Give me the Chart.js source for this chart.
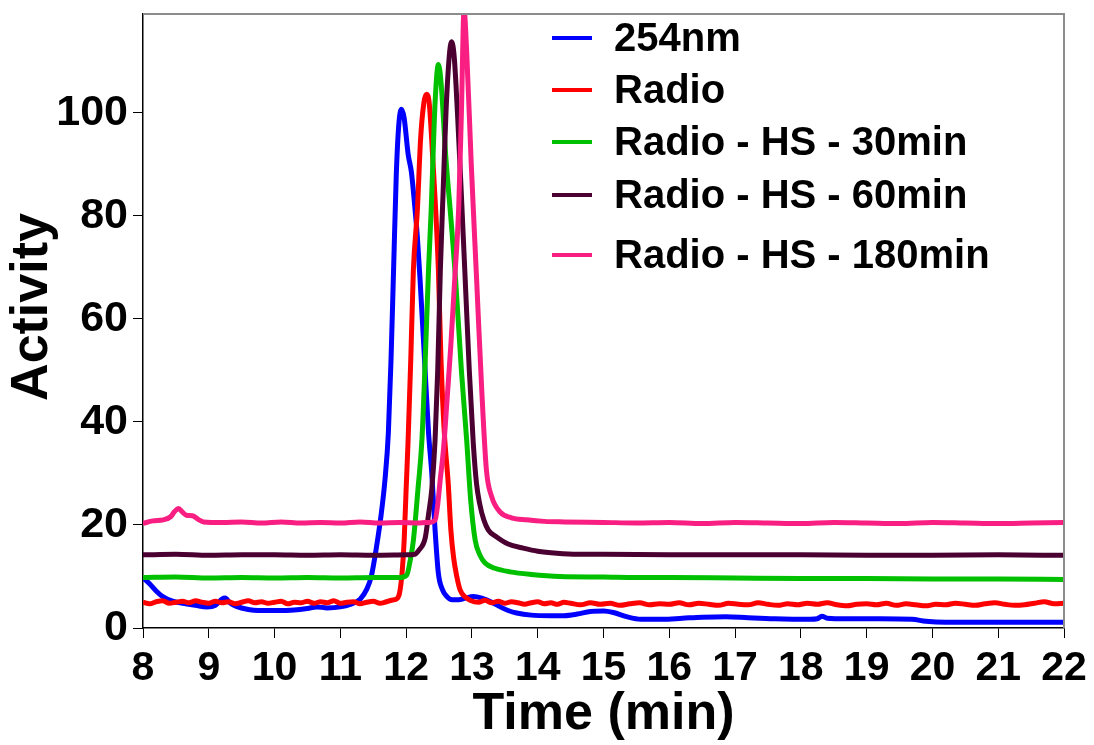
<!DOCTYPE html>
<html>
<head>
<meta charset="utf-8">
<script src="https://cdn.jsdelivr.net/npm/chart.js@4.4.1/dist/chart.umd.min.js"></script>
<style>
  html, body { margin: 0; padding: 0; background: #fff; }
  #wrap { width: 1094px; height: 745px; }
</style>
</head>
<body>
<div id="wrap"><canvas id="chart" width="1094" height="745"></canvas></div>
<script>
// ── Data ─────────────────────────────────────────────────────────────────────
const seriesLabels = ['254nm', 'Radio', 'Radio - HS - 30min', 'Radio - HS - 60min', 'Radio - HS - 180min'];
const seriesColors = ['#0000ff', '#ff0000', '#00c000', '#4a0030', '#f81e82'];

const xTicks = [8, 9, 10, 11, 12, 13, 14, 15, 16, 17, 18, 19, 20, 21, 22];
const yTicks = [0, 20, 40, 60, 80, 100];

// 254nm (UV)
const tUv = [8.0, 8.1, 8.2, 8.3, 8.45, 8.6, 8.8, 8.97, 9.1, 9.2, 9.25, 9.32, 9.42, 9.6, 9.75, 10.0, 10.3, 10.5, 10.64, 10.8, 11.0, 11.15, 11.3, 11.4, 11.47, 11.55, 11.62, 11.68, 11.73, 11.77, 11.81, 11.85, 11.89, 11.93, 11.97, 12.03, 12.08, 12.13, 12.17, 12.21, 12.28, 12.34, 12.39, 12.44, 12.49, 12.55, 12.62, 12.7, 12.8, 12.9, 13.02, 13.15, 13.3, 13.43, 13.55, 13.68, 13.9, 14.2, 14.4, 14.6, 14.8, 15.0, 15.15, 15.35, 15.57, 15.9, 16.2, 16.5, 16.86, 17.2, 17.6, 18.14, 18.25, 18.32, 18.4, 18.7, 19.2, 19.69, 19.9, 20.2, 21.0, 22.0];
const vUv = [9.8, 8.6, 7.2, 6.1, 5.2, 4.8, 4.4, 4.1, 4.4, 5.6, 5.8, 4.9, 4.2, 3.6, 3.4, 3.4, 3.5, 3.8, 4.1, 3.9, 4.1, 4.6, 5.6, 7.5, 10, 15.8, 22, 29, 38, 52, 70, 88, 98, 100.7, 99, 92, 88.5, 82, 76, 68, 52, 38, 30, 19, 10.6, 7.5, 6.1, 5.5, 5.5, 5.8, 6.1, 5.8, 5.0, 4.1, 3.4, 2.9, 2.5, 2.4, 2.4, 2.7, 3.2, 3.3, 3.0, 2.2, 1.7, 1.7, 1.9, 2.1, 2.2, 2.0, 1.8, 1.7, 1.8, 2.3, 1.9, 1.8, 1.8, 1.7, 1.3, 1.1, 1.1, 1.1];

// Radio
const tRadio = [8.0, 8.1, 8.2, 8.3, 8.4, 8.5, 8.6, 8.7, 8.8, 8.9, 9.0, 9.1, 9.2, 9.3, 9.4, 9.5, 9.6, 9.7, 9.8, 9.9, 10.0, 10.1, 10.2, 10.3, 10.4, 10.5, 10.6, 10.7, 10.8, 10.9, 11.0, 11.1, 11.2, 11.3, 11.4, 11.5, 11.6, 11.7, 11.78, 11.85, 11.9, 11.94, 11.97, 12.0, 12.03, 12.07, 12.11, 12.17, 12.22, 12.27, 12.31, 12.35, 12.41, 12.45, 12.49, 12.53, 12.58, 12.64, 12.68, 12.72, 12.77, 12.82, 12.9, 12.97, 13.1, 13.2, 13.3, 13.4, 13.5, 13.6, 13.7, 13.8, 13.9, 14.0, 14.1, 14.2, 14.3, 14.4, 14.5, 14.65, 14.8, 14.95, 15.1, 15.25, 15.4, 15.55, 15.7, 15.85, 16.0, 16.15, 16.3, 16.45, 16.6, 16.75, 16.9, 17.05, 17.2, 17.35, 17.5, 17.65, 17.8, 17.95, 18.1, 18.25, 18.4, 18.55, 18.7, 18.85, 19.0, 19.15, 19.3, 19.45, 19.6, 19.75, 19.9, 20.05, 20.2, 20.35, 20.5, 20.65, 20.8, 20.95, 21.1, 21.25, 21.4, 21.55, 21.7, 21.85, 22.0];
const vRadio = [5.0, 4.7, 5.1, 5.3, 4.8, 5.0, 5.2, 4.9, 5.3, 5.0, 4.8, 5.2, 4.9, 5.1, 4.7, 5.0, 5.3, 4.9, 5.1, 4.8, 5.0, 5.2, 4.7, 5.0, 4.9, 5.2, 4.8, 5.1, 4.9, 5.3, 4.8, 5.0, 5.1, 4.7, 5.0, 5.2, 4.8, 5.1, 5.4, 5.6, 6.8, 11, 17, 27, 36.5, 52, 69.5, 81, 95, 102, 103.6, 102, 90, 81, 69.5, 52, 38, 28, 19, 13.8, 10, 7.4, 6.0, 5.4, 5.0, 5.4, 4.9, 5.2, 4.8, 5.1, 4.9, 4.6, 4.9, 5.1, 4.7, 4.9, 4.6, 5.0, 4.8, 4.5, 4.9, 4.6, 4.8, 4.4, 4.7, 4.9, 4.5, 4.7, 4.6, 4.9, 4.5, 4.8, 4.6, 4.4, 4.8, 4.6, 4.5, 4.9, 4.6, 4.4, 4.7, 4.5, 4.8, 4.6, 4.9, 4.5, 4.3, 4.6, 4.7, 4.5, 4.8, 4.4, 4.7, 4.5, 4.3, 4.6, 4.5, 4.8, 4.6, 4.4, 4.7, 4.9, 4.6, 4.4, 4.5, 4.8, 5.1, 4.7, 4.8];

// Radio - HS - 30min
const tHs30 = [8.0, 8.5, 9.0, 9.5, 10.0, 10.5, 11.0, 11.5, 11.9, 12.01, 12.06, 12.11, 12.18, 12.24, 12.29, 12.34, 12.38, 12.44, 12.49, 12.53, 12.6, 12.69, 12.75, 12.84, 12.92, 12.98, 13.05, 13.12, 13.2, 13.35, 13.58, 13.9, 14.34, 15.0, 15.5, 16.0, 17.0, 18.0, 19.0, 20.0, 21.0, 22.0];
const vHs30 = [9.8, 9.9, 9.7, 9.8, 9.7, 9.8, 9.7, 9.8, 9.8, 10.3, 13, 17, 27, 36.5, 52, 69.5, 81, 102, 109.4, 106, 92, 78, 68, 50, 36.5, 25, 17, 14.2, 12.6, 11.6, 10.9, 10.4, 10.0, 9.9, 9.8, 9.8, 9.7, 9.6, 9.6, 9.5, 9.5, 9.4];

// Radio - HS - 60min
const tHs60 = [8.0, 8.5, 9.0, 9.5, 10.0, 10.5, 11.0, 11.5, 12.0, 12.13, 12.2, 12.29, 12.34, 12.39, 12.44, 12.48, 12.52, 12.56, 12.62, 12.69, 12.73, 12.78, 12.84, 12.9, 12.96, 13.02, 13.07, 13.12, 13.18, 13.25, 13.37, 13.55, 13.78, 14.0, 14.29, 14.6, 15.0, 16.0, 17.0, 18.0, 19.0, 20.0, 21.0, 22.0];
const vHs60 = [14.2, 14.3, 14.1, 14.2, 14.2, 14.1, 14.2, 14.1, 14.2, 14.3, 15.2, 17.5, 22, 27, 36.5, 50, 69.5, 84, 104, 113.8, 111, 100, 84, 67, 50, 36, 28, 24, 21, 19, 17.7, 16.3, 15.5, 14.9, 14.5, 14.3, 14.3, 14.2, 14.2, 14.2, 14.1, 14.1, 14.2, 14.1];

// Radio - HS - 180min
const tHs180 = [8.0, 8.15, 8.31, 8.42, 8.48, 8.54, 8.6, 8.66, 8.75, 8.85, 8.92, 9.2, 9.5, 9.8, 10.1, 10.4, 10.7, 11.0, 11.3, 11.6, 11.9, 12.2, 12.35, 12.44, 12.48, 12.52, 12.57, 12.62, 12.68, 12.74, 12.8, 12.84, 12.88, 12.92, 12.99, 13.07, 13.15, 13.22, 13.3, 13.43, 13.6, 13.83, 14.1, 14.4, 15.0, 15.5, 16.0, 16.5, 17.0, 17.5, 18.0, 18.5, 19.0, 19.5, 20.0, 20.5, 21.0, 21.5, 22.0];
const vHs180 = [20.3, 20.8, 21.0, 21.6, 22.6, 23.2, 22.5, 21.9, 21.8, 21.0, 20.6, 20.5, 20.6, 20.4, 20.6, 20.4, 20.5, 20.4, 20.6, 20.4, 20.5, 20.4, 20.5, 20.9, 24, 29, 35, 44, 55, 68, 82, 100, 120, 112, 90, 68, 46, 30.7, 25.5, 22.5, 21.4, 21.0, 20.7, 20.6, 20.5, 20.4, 20.5, 20.3, 20.5, 20.4, 20.3, 20.5, 20.4, 20.3, 20.5, 20.4, 20.3, 20.4, 20.5];

const seriesTimes  = [tUv, tRadio, tHs30, tHs60, tHs180];
const seriesValues = [vUv, vRadio, vHs30, vHs60, vHs180];

// ── Chart ────────────────────────────────────────────────────────────────────
const FONT = '"Liberation Sans", Arial, sans-serif';

// gray frame on top and right of the plot box
const framePlugin = {
  id: 'frame',
  afterDatasetsDraw(chart) {
    const { ctx, chartArea: a } = chart;
    ctx.save();
    ctx.strokeStyle = '#8c8c8c';
    ctx.lineWidth = 2;
    ctx.beginPath();
    ctx.moveTo(a.left, a.top);
    ctx.lineTo(a.right, a.top);
    ctx.lineTo(a.right, a.bottom);
    ctx.stroke();
    ctx.restore();
  }
};

// legend inside the plot + y title (drawn by hand to sit where the original has them)
const legendPlugin = {
  id: 'innerLegend',
  afterDraw(chart) {
    const { ctx } = chart;
    const rows = [38, 90, 142, 195, 255];
    ctx.save();
    ctx.font = `bold 40px ${FONT}`;
    ctx.textBaseline = 'middle';
    ctx.fillStyle = '#000';
    chart.data.datasets.forEach((ds, i) => {
      const y = rows[i];
      ctx.strokeStyle = ds.borderColor;
      ctx.lineWidth = 4;
      ctx.beginPath();
      ctx.moveTo(552, y);
      ctx.lineTo(592, y);
      ctx.stroke();
      ctx.fillText(ds.label, 614, y + 2);
    });

    // y axis title
    ctx.translate(33, 307);
    ctx.rotate(-Math.PI / 2);
    ctx.textAlign = 'center';
    ctx.font = `bold 52px ${FONT}`;
    ctx.fillText('Activity', 0, 0);
    ctx.restore();
  }
};

new Chart(document.getElementById('chart'), {
  type: 'line',
  data: {
    datasets: seriesLabels.map((label, i) => ({
      label,
      data: seriesTimes[i].map((t, j) => ({ x: t, y: seriesValues[i][j] })),
      borderColor: seriesColors[i],
      backgroundColor: seriesColors[i],
      borderWidth: 5,
      pointRadius: 0,
      cubicInterpolationMode: 'monotone',
      fill: false,
      clip: 0,
      order: seriesLabels.length - i,
    }))
  },
  options: {
    responsive: false,
    animation: false,
    devicePixelRatio: 1,
    layout: { padding: { left: 0, right: 30, top: 14, bottom: 0 } },
    plugins: {
      legend: { display: false },
      tooltip: { enabled: false },
    },
    scales: {
      x: {
        type: 'linear',
        min: 8, max: 22,
        afterFit: s => { s.height = 117; },
        afterBuildTicks: s => { s.ticks = xTicks.map(v => ({ value: v })); },
        grid: { drawOnChartArea: false, drawTicks: true, tickLength: 10, color: '#000', lineWidth: 1 },
        border: { color: '#000', width: 1.5 },
        ticks: { color: '#000', padding: 6, maxRotation: 0, font: { family: FONT, size: 41, weight: 'bold' } },
        title: {
          display: true, text: 'Time (min)', color: '#000',
          font: { family: FONT, size: 52, weight: 'bold', lineHeight: 1 },
          padding: { top: 0, bottom: 4 }
        }
      },
      y: {
        min: 0, max: 119.2,
        afterFit: s => { s.width = 143; s.paddingTop = 0; s.paddingBottom = 0; },
        afterBuildTicks: s => { s.ticks = yTicks.map(v => ({ value: v })); },
        grid: { drawOnChartArea: false, drawTicks: true, tickLength: 10, color: '#000', lineWidth: 1 },
        border: { color: '#000', width: 1.5 },
        ticks: { color: '#000', padding: 5, font: { family: FONT, size: 43, weight: 'bold' } },
        title: { display: false }
      }
    }
  },
  plugins: [framePlugin, legendPlugin]
});
</script>
</body>
</html>
